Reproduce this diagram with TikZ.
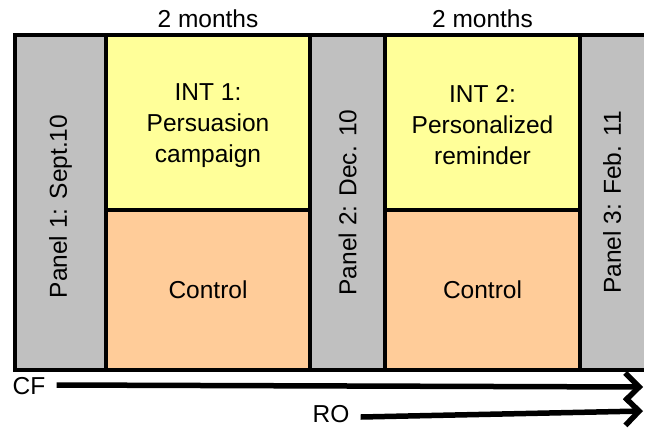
\documentclass[tikz,border=0pt]{standalone}
\usepackage{fontspec}
\setmainfont{Liberation Sans}
\usetikzlibrary{arrows.meta}
\definecolor{panelgray}{HTML}{C0C0C0}
\definecolor{intyellow}{HTML}{FFFF99}
\definecolor{ctrlorange}{HTML}{FFCC99}
\begin{document}
\begin{tikzpicture}[x=1pt,y=-1pt,
  cell/.style={inner sep=0pt, outer sep=0pt, draw=black, line width=4.5pt},
  txt/.style={font=\fontsize{24.5}{31}\selectfont, align=center, inner sep=0pt},
  frame/.style={line width=4.5pt},
  timeline/.style={line width=5.5pt, -{Straight Barb[length=14pt,width=28pt,line width=5.5pt]}}
]
\useasboundingbox (0,0) rectangle (647,429);
% cells
\node[cell, fill=panelgray, minimum width=91pt, minimum height=335pt] (p1) at (60.5,202.5) {};
\node[cell, fill=intyellow, minimum width=204pt, minimum height=175pt] (i1) at (208,122.5) {};
\node[cell, fill=ctrlorange, minimum width=204pt, minimum height=160pt] (c1) at (208,290) {};
\node[cell, fill=panelgray, minimum width=75pt, minimum height=335pt] (p2) at (347.5,202.5) {};
\node[cell, fill=intyellow, minimum width=195pt, minimum height=175pt] (i2) at (482.5,122.5) {};
\node[cell, fill=ctrlorange, minimum width=195pt, minimum height=160pt] (c2) at (482.5,290) {};
\node[inner sep=0pt, outer sep=0pt, fill=panelgray, minimum width=64pt, minimum height=335pt] (p3) at (612,202.5) {};
\draw[frame] ([xshift=-2pt]p3.north west) -- (p3.north east);
\draw[frame] ([xshift=-2pt]p3.south west) -- (p3.south east);
\draw[frame] (p3.north west) -- (p3.south west);
% texts
\node[txt, rotate=90] (t1) at ([yshift=-4pt]p1.center) {Panel 1: Sept.10};
\node[txt, rotate=90] (t2) at (p2.center) {Panel 2: Dec. 10};
\node[txt, rotate=90] (t3) at (p3.center) {Panel 3: Feb. 11};
\node[txt] (ti1) at ([yshift=-3pt]i1.center) {INT 1:\\Persuasion\\campaign};
\node[txt] (ti2) at ([yshift=-3pt]i2.center) {INT 2:\\Personalized\\reminder};
\node[txt] (tc1) at (c1.center) {Control};
\node[txt] (tc2) at (c2.center) {Control};
\node[txt] (m1) at (208,19) {2 months};
\node[txt] (m2) at (482.5,19) {2 months};
% timelines
\node[txt] (cf) at (29,386) {CF};
\coordinate (cfend) at (643,387);
\draw[timeline] (cf.east) ++(11pt,1pt) coordinate (cfstart) (cfstart) -- (cfend);
\node[txt] (ro) at (331,414) {RO};
\coordinate (roend) at (643,411);
\draw[timeline] (ro.east) ++(11pt,-3pt) coordinate (rostart) (rostart) -- (roend);
\end{tikzpicture}
\end{document}
